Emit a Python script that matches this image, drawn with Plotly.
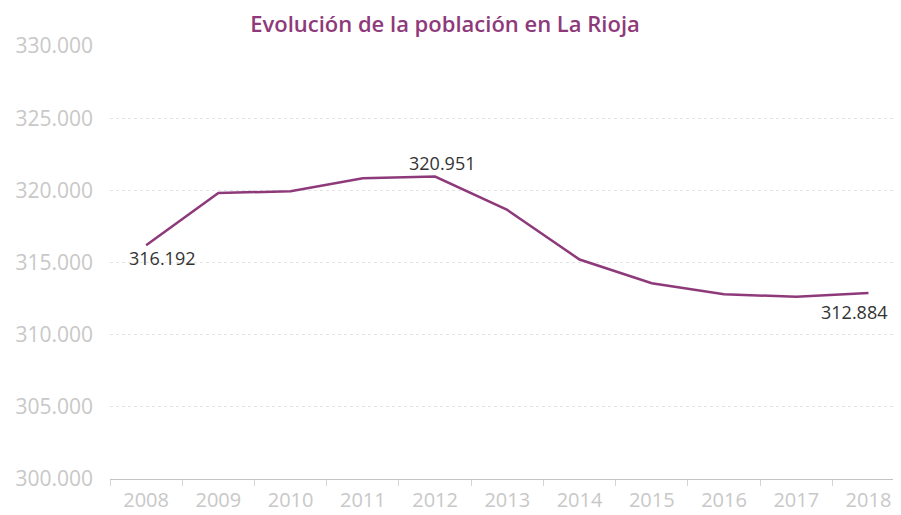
import plotly.graph_objects as go

years = ["2008", "2009", "2010", "2011", "2012", "2013", "2014", "2015", "2016", "2017", "2018"]
population = [316192, 319820, 319930, 320830, 320951, 318640, 315206, 313567, 312800, 312626, 312884]
label_years = ["2008", "2012", "2018"]
label_text = ["316.192", "320.951", "312.884"]
y_ticks = [300000, 305000, 310000, 315000, 320000, 325000, 330000]
y_tick_text = ["300.000", "305.000", "310.000", "315.000", "320.000", "325.000", "330.000"]
title_text = "Evolución de la población en La Rioja"

LINE = "#8e3a7a"
FONT = "Open Sans"
PAGE_OFFSET = 8  # default browser body margin

fig = go.Figure()
fig.add_trace(go.Scatter(
    x=years, y=population, mode="lines",
    line=dict(color=LINE, width=2.5),
    hoverinfo="skip", showlegend=False,
))

shifts = {"2008": (16, -13), "2012": (7, 14), "2018": (-14, -19)}
for yr, txt in zip(label_years, label_text):
    idx = years.index(yr)
    dx, dy = shifts[yr]
    fig.add_annotation(
        x=idx, y=population[idx], xref="x", yref="y",
        text=txt, showarrow=False, xanchor="center", yanchor="middle",
        xshift=dx, yshift=dy,
        font=dict(family=FONT, size=18, color="#333333"),
    )

W, H = 901 - PAGE_OFFSET, 515 - PAGE_OFFSET
fig.update_layout(
    width=W, height=H,
    margin=dict(l=110 - PAGE_OFFSET, r=0, t=46 - PAGE_OFFSET, b=36),
    paper_bgcolor="white", plot_bgcolor="white",
    separators=",.",
    title=dict(
        text=title_text, xref="container", yref="container",
        x=(445 - PAGE_OFFSET) / W, xanchor="center",
        y=1 - (24 - PAGE_OFFSET) / H, yanchor="middle",
        font=dict(family=FONT, size=22, color=LINE, weight=600),
    ),
    xaxis=dict(
        type="category", range=[-0.5, 10.45],
        showgrid=False, zeroline=False,
        showline=True, linecolor="#c4c4c4", linewidth=1,
        ticks="outside", tickson="boundaries", ticklen=6, tickcolor="#d4d4d4",
        tickfont=dict(family=FONT, size=20, color="#c8c8c8"),
        ticklabelstandoff=3,
        automargin=False,
        fixedrange=True,
    ),
    yaxis=dict(
        range=[300000, 330000],
        tickvals=y_ticks, ticktext=y_tick_text,
        showgrid=True, gridcolor="#e4e4e4", griddash="dot", gridwidth=1,
        zeroline=False, showline=False,
        tickfont=dict(family=FONT, size=21, color="#c8c8c8"),
        ticklabelstandoff=16,
        automargin=False,
        fixedrange=True,
    ),
)

fig.write_html("out.html", config={"displayModeBar": False})
